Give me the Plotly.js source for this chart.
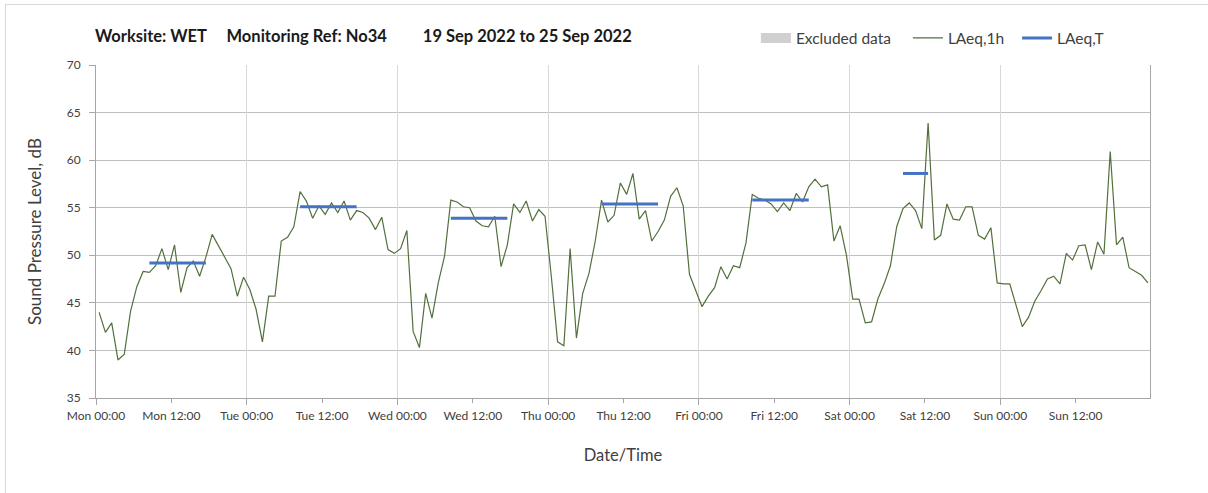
<!DOCTYPE html>
<html><head><meta charset="utf-8">
<script src="https://cdn.plot.ly/plotly-3.0.1.min.js"></script>
<style>
html,body{margin:0;padding:0;background:#fff;overflow:hidden;}
#chart{position:absolute;left:0;top:0;width:1208px;height:493px;}
#frame{position:absolute;left:5px;top:4px;width:1300px;height:600px;border-left:1px solid #d9d9d9;border-top:1px solid #d9d9d9;z-index:10;pointer-events:none;}
</style></head><body>
<div id="chart"></div>
<div id="frame"></div>
<script>
// Hourly LAeq,1h values, Mon 19 Sep 2022 00:00 onwards (one per hour, 168 hours)
const hourlyStartUTC = Date.UTC(2022, 8, 19, 0, 30);
const laeq1h = [
  44.0, 41.9, 42.9, 39.0, 39.6, 44.1, 46.7, 48.3, 48.2, 48.9, 50.7, 48.5,
  51.1, 46.1, 48.7, 49.4, 47.8, 49.8, 52.2, 51.0, 49.7, 48.6, 45.7, 47.7,
  46.4, 44.3, 40.9, 45.7, 45.7, 51.5, 51.9, 53.0, 56.7, 55.7, 53.9, 55.2,
  54.3, 55.5, 54.5, 55.7, 53.7, 54.7, 54.5, 53.9, 52.7, 54.0, 50.6, 50.2,
  50.7, 52.6, 42.0, 40.3, 46.0, 43.4, 47.1, 49.9, 55.8, 55.6, 55.1, 55.0,
  53.6, 53.1, 53.0, 54.1, 48.8, 51.1, 55.4, 54.5, 55.7, 53.6, 54.8, 54.1,
  47.8, 40.9, 40.5, 50.7, 41.3, 46.0, 48.1, 51.5, 55.8, 53.5, 54.2, 57.6,
  56.4, 58.6, 53.8, 54.7, 51.5, 52.5, 53.7, 56.2, 57.1, 55.2, 48.0, 46.4,
  44.6, 45.7, 46.6, 48.8, 47.5, 48.9, 48.7, 51.3, 56.4, 56.0, 55.8, 55.4,
  54.6, 55.5, 54.7, 56.5, 55.6, 57.2, 58.0, 57.2, 57.4, 51.5, 53.1, 50.0,
  45.4, 45.4, 42.9, 43.0, 45.4, 47.0, 48.9, 53.0, 54.9, 55.5, 54.7, 52.8,
  63.9, 51.6, 52.1, 55.4, 53.8, 53.7, 55.1, 55.1, 52.1, 51.7, 52.9, 47.1,
  47.0, 47.0, 44.8, 42.5, 43.5, 45.2, 46.3, 47.5, 47.8, 47.0, 50.2, 49.5,
  51.0, 51.1, 48.5, 51.4, 50.1, 60.9, 51.1, 51.9, 48.7, 48.3, 47.9, 47.1
];
// LAeq,T daytime periods (first and last hourly points of each period)
const periodStart = ['2022-09-19 08:30', '2022-09-20 08:30', '2022-09-21 08:30', '2022-09-22 08:30', '2022-09-23 08:30', '2022-09-24 08:30'];
const periodEnd   = ['2022-09-19 17:30', '2022-09-20 17:30', '2022-09-21 17:30', '2022-09-22 17:30', '2022-09-23 17:30', '2022-09-24 12:30'];
const periodLevel = [49.2, 55.1, 53.9, 55.4, 55.8, 58.6];

const axisRange = ['2022-09-19 00:00', '2022-09-25 23:50'];
const seriesNames = ['Excluded data', 'LAeq,1h', 'LAeq,T'];
const NB = '\u00a0';
const titleText = 'Worksite: WET' + NB.repeat(4) + ' Monitoring Ref: No34' + NB.repeat(8) + ' 19 Sep 2022 to 25 Sep 2022';

function fmt(ms) {
  return new Date(ms).toISOString().slice(0, 16).replace('T', ' ');
}
const hourlyX = laeq1h.map((v, i) => fmt(hourlyStartUTC + i * 3600000));

const tX = [], tY = [];
periodLevel.forEach((lv, i) => {
  tX.push(periodStart[i], periodEnd[i], null);
  tY.push(lv, lv, null);
});

const FONT = 'Lato, "Open Sans", sans-serif';

const traces = [
  {x: [hourlyX[0]], y: [null], mode: 'lines', name: seriesNames[0] + NB.repeat(3), xaxis: 'x2', yaxis: 'y',
   line: {color: '#d0d0d0', width: 10}, hoverinfo: 'skip'},
  {x: hourlyX, y: laeq1h, mode: 'lines', name: seriesNames[1] + NB.repeat(2),
   line: {color: '#52703d', width: 1.2}},
  {x: tX, y: tY, mode: 'lines', name: seriesNames[2], xaxis: 'x2', yaxis: 'y',
   line: {color: '#4472c4', width: 3}, connectgaps: false}
];

const layout = {
  width: 1208, height: 493,
  margin: {l: 96, r: 58, t: 65, b: 95},
  paper_bgcolor: 'rgba(0,0,0,0)', plot_bgcolor: 'rgba(0,0,0,0)',
  font: {family: FONT, color: '#404040'},
  showlegend: true,
  title: {text: '<b>' + titleText + '</b>', xref: 'container', yref: 'container',
          x: 95 / 1208, xanchor: 'left', y: 1 - 36 / 493, yanchor: 'middle',
          font: {family: FONT, size: 16.5, color: '#1a1a1a'}},
  legend: {orientation: 'h', xref: 'paper', yref: 'paper', x: 0.961, xanchor: 'right',
           y: 1.08, yanchor: 'middle', font: {family: FONT, size: 15.5, color: '#404040'},
           bgcolor: 'rgba(0,0,0,0)', itemwidth: 30, traceorder: 'normal'},
  xaxis: {type: 'date', range: axisRange, tick0: '2022-09-19 00:00', dtick: 43200000,
          tickformat: '%a %H:%M', showgrid: false, zeroline: false,
          ticks: 'outside', ticklen: 4, tickcolor: '#a6a6a6',
          showline: true, linecolor: '#a6a6a6', linewidth: 1,
          ticklabelstandoff: 3,
          tickfont: {family: FONT, size: 12, color: '#404040'},
          title: {text: 'Date/Time', font: {family: FONT, size: 16.5, color: '#404040'}, standoff: 27}},
  xaxis2: {type: 'date', range: axisRange, tick0: '2022-09-19 00:00', dtick: 86400000,
           overlaying: 'x', anchor: 'y', side: 'bottom',
           showgrid: true, gridcolor: '#d9d9d9', gridwidth: 1, zeroline: false,
           showticklabels: false, ticks: 'outside', ticklen: 6, tickcolor: '#a6a6a6', showline: false},
  yaxis: {range: [35, 70], dtick: 5, showgrid: true, gridcolor: '#c0c0c0', gridwidth: 1,
          zeroline: false, ticks: 'outside', ticklen: 6, tickcolor: '#a6a6a6',
          showline: true, linecolor: '#a6a6a6', linewidth: 1, mirror: true,
          ticklabelstandoff: 6,
          tickfont: {family: FONT, size: 12, color: '#404040'},
          title: {text: 'Sound Pressure Level, dB', font: {family: FONT, size: 17, color: '#404040'}, standoff: 20}}
};

Plotly.newPlot('chart', traces, layout, {staticPlot: true, displayModeBar: false});
</script>
</body></html>
